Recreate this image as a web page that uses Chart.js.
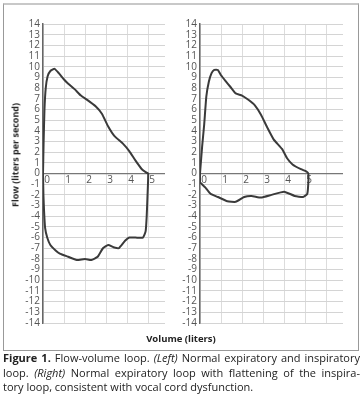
<!DOCTYPE html>
<html>
<head>
<meta charset="utf-8">
<script src="https://cdn.jsdelivr.net/npm/chart.js@4.4.1/dist/chart.umd.min.js"></script>
<style>
  body { margin: 0; background: #fff; font-family: "Open Sans", sans-serif; }
  #frame { position: absolute; left: 3px; top: 3px; width: 354px; height: 345px;
           border: 1px solid #999; border-top: 2px solid #c8c8c8; }
  canvas { position: absolute; }
  #ytitle { position: absolute; left: 15px; top: 155px; transform: translate(-50%, -50%) rotate(-90deg);
            font-size: 9px; font-weight: bold; color: #222; white-space: nowrap; }
  #xtitle { position: absolute; left: 181px; top: 338px; transform: translate(-50%, -50%);
            font-size: 9.5px; font-weight: bold; color: #222; white-space: nowrap; }
  #caption { position: absolute; left: 3px; top: 351px; width: 357px; font-size: 11px;
             line-height: 14.5px; color: #222; }
  .j { text-align: justify; text-align-last: justify; }
</style>
</head>
<body>
<div id="frame"></div>
<canvas id="left" width="155" height="317" style="left:10px; top:15px"></canvas>
<canvas id="right" width="176" height="317" style="left:167px; top:15px"></canvas>
<div id="ytitle">Flow (liters per second)</div>
<div id="xtitle">Volume (liters)</div>
<div id="caption">
  <div class="j"><b>Figure 1.</b> Flow-volume loop. <i>(Left)</i> Normal expiratory and inspiratory</div>
  <div class="j">loop. <i>(Right)</i> Normal expiratory loop with flattening of the inspira-</div>
  <div>tory loop, consistent with vocal cord dysfunction.</div>
</div>
<script>
// tick labels
var volumeTicks = [0, 1, 2, 3, 4, 5];
var flowMin = -14, flowMax = 14;

// left: normal loop
var leftExpVolume = [0, 0.03, 0.07, 0.13, 0.22, 0.35, 0.55, 0.75, 1.0, 1.2, 1.5, 1.8, 2.1, 2.5, 2.8, 3.1, 3.4, 3.8, 4.1, 4.4, 4.7, 4.9, 5.0];
var leftExpFlow   = [0, 3, 6, 8, 9.1, 9.6, 9.8, 9.4, 8.8, 8.4, 7.9, 7.3, 6.9, 6.3, 5.6, 4.4, 3.5, 2.8, 2.1, 1.2, 0.4, 0.1, 0];
var leftInspVolume = [4.97, 4.93, 4.88, 4.75, 4.4, 4.1, 3.9, 3.6, 3.35, 3.1, 2.85, 2.6, 2.3, 2.0, 1.6, 1.2, 0.8, 0.6, 0.35, 0.2, 0.1, 0.05, 0.02, 0];
var leftInspFlow   = [-2, -4, -5.4, -6.0, -6.0, -6.0, -6.3, -7.0, -6.9, -6.7, -7.0, -7.8, -8.1, -8.0, -8.1, -7.8, -7.5, -7.2, -6.7, -6.0, -5.1, -3.5, -2, 0];

// right: flattened inspiratory loop
var rightExpVolume = [0, 0.1, 0.2, 0.3, 0.42, 0.55, 0.68, 0.85, 1.0, 1.2, 1.45, 1.7, 2.0, 2.3, 2.6, 2.9, 3.2, 3.5, 3.9, 4.15, 4.4, 4.8, 5.05, 5.15];
var rightExpFlow   = [0, 2.5, 4.6, 7.2, 8.6, 9.4, 9.7, 9.7, 9.2, 8.7, 8.1, 7.5, 7.3, 6.9, 6.4, 5.5, 4.3, 3.2, 2.3, 1.4, 0.85, 0.4, 0.2, 0];
var rightInspVolume = [5.15, 5.1, 4.9, 4.5, 4.0, 3.4, 2.9, 2.45, 2.1, 1.7, 1.3, 0.85, 0.5, 0.25, 0, 0];
var rightInspFlow   = [-0.9, -1.9, -2.2, -2.1, -1.7, -2.0, -2.25, -2.1, -2.2, -2.65, -2.6, -2.2, -1.9, -1.3, -0.8, 0];

function zip(xs, ys) {
  return xs.map(function (x, i) { return { x: x, y: ys[i] }; });
}

function makeChart(id, points, xMax) {
  var tickFont = { family: 'Open Sans', size: 10 };
  return new Chart(document.getElementById(id), {
    type: 'scatter',
    data: {
      datasets: [{
        data: points,
        showLine: true,
        borderColor: '#3a3a3a',
        borderWidth: 2,
        pointRadius: 0,
        tension: 0.15
      }]
    },
    options: {
      responsive: false,
      animation: false,
      layout: { padding: { top: 8, bottom: 8, left: 0, right: 0 } },
      plugins: { legend: { display: false }, tooltip: { enabled: false } },
      scales: {
        x: {
          type: 'linear',
          position: { y: 0 },
          min: 0,
          max: xMax,
          grid: { color: '#dcdcdc', drawTicks: false },
          border: { color: '#777', width: 1.2 },
          ticks: {
            stepSize: 1,
            includeBounds: false,
            padding: 1,
            labelOffset: 4,
            color: '#555',
            font: tickFont,
            callback: function (v) { return volumeTicks.indexOf(v) >= 0 ? String(v) : ''; }
          }
        },
        y: {
          min: flowMin,
          max: flowMax,
          grid: { color: '#d4d4d4', drawTicks: false },
          border: { color: '#666', width: 1.5 },
          afterFit: function (s) { s.width = 33; },
          ticks: { stepSize: 1, autoSkip: false, padding: 3, color: '#555', font: tickFont }
        }
      }
    }
  });
}

makeChart('left', zip(leftExpVolume, leftExpFlow).concat(zip(leftInspVolume, leftInspFlow)), 5.8);
makeChart('right', zip(rightExpVolume, rightExpFlow).concat(zip(rightInspVolume, rightInspFlow)), 6.8);
</script>
</body>
</html>
